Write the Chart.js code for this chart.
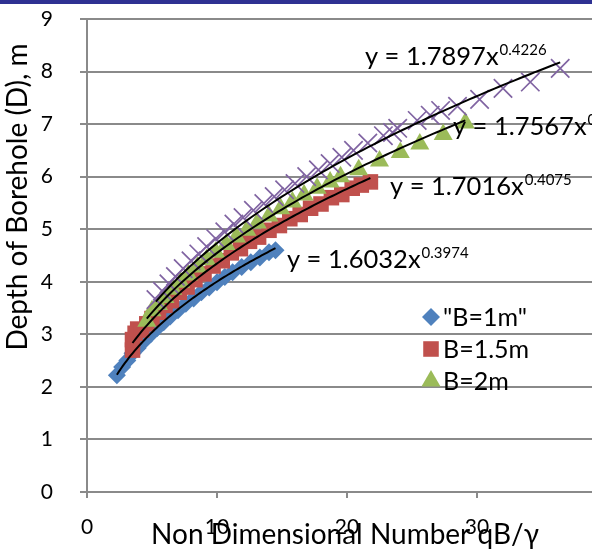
<!DOCTYPE html>
<html>
<head>
<meta charset="utf-8">
<script src="https://cdn.jsdelivr.net/npm/chart.js@4.4.0/dist/chart.umd.min.js"></script>
<style>
  html, body { margin: 0; padding: 0; background: #fff; width: 592px; height: 555px; overflow: hidden; }
  #wrap { position: absolute; left: 0; top: 0; width: 640px; height: 555px; }
  #band { position: absolute; left: 0; top: 0; width: 592px; height: 4px; background: #2e3192; }
</style>
</head>
<body>
<div id="wrap"><canvas id="c" width="640" height="555"></canvas></div>
<div id="band"></div>
<script>
// Borehole depth D against the non dimensional number qB/gamma, per footing width B
const seriesNames = ['"B=1m"', 'B=1.5m', 'B=2m', 'B=2.5m'];

const b1X = [2.3, 2.7, 3.1, 3.5, 3.9, 4.4, 4.9, 5.4, 5.9, 6.4, 7.0, 7.6, 8.2, 8.8, 9.4, 10.0, 10.6, 11.2, 11.9, 12.6, 13.3, 14.0, 14.5];
const b1Y = [2.22, 2.38, 2.50, 2.64, 2.74, 2.88, 3.00, 3.12, 3.23, 3.34, 3.46, 3.58, 3.68, 3.80, 3.89, 3.99, 4.09, 4.18, 4.28, 4.37, 4.46, 4.56, 4.60];

const b15X = [3.5, 3.5, 3.7, 3.9, 4.2, 4.6, 5.0, 5.5, 6.0, 6.5, 7.1, 7.7, 8.3, 9.0, 9.7, 10.4, 11.1, 11.8, 12.5, 13.2, 14.0, 14.8, 15.6, 16.4, 17.2, 18.0, 18.8, 19.6, 20.4, 21.1, 21.8];
const b15Y = [2.70, 2.90, 3.02, 3.10, 3.08, 3.20, 3.30, 3.42, 3.55, 3.64, 3.80, 3.90, 4.04, 4.15, 4.30, 4.40, 4.55, 4.63, 4.77, 4.85, 4.98, 5.07, 5.20, 5.28, 5.40, 5.48, 5.60, 5.66, 5.78, 5.84, 5.90];

const b2X = [4.6, 5.0, 5.5, 6.0, 6.6, 7.2, 7.8, 8.5, 9.2, 9.9, 10.7, 11.5, 12.3, 13.1, 14.0, 14.9, 15.8, 16.7, 17.7, 18.7, 19.5, 20.9, 22.5, 24.1, 25.6, 27.4, 29.1];
const b2Y = [3.25, 3.45, 3.57, 3.70, 3.86, 3.99, 4.13, 4.28, 4.42, 4.56, 4.71, 4.85, 4.98, 5.12, 5.25, 5.39, 5.52, 5.65, 5.78, 5.90, 6.00, 6.13, 6.30, 6.46, 6.62, 6.80, 7.02];

const b25X = [5.3, 5.8, 6.3, 6.8, 7.4, 8.0, 8.6, 9.2, 9.9, 10.6, 11.3, 12.0, 12.8, 13.6, 14.4, 15.2, 16.0, 16.9, 17.8, 18.7, 19.6, 20.5, 21.6, 22.8, 23.5, 23.9, 25.4, 26.4, 27.2, 28.5, 30.2, 32.0, 34.1, 36.4];
const b25Y = [3.66, 3.82, 3.96, 4.10, 4.25, 4.40, 4.53, 4.67, 4.82, 4.95, 5.10, 5.22, 5.36, 5.49, 5.62, 5.75, 5.87, 6.00, 6.13, 6.25, 6.37, 6.50, 6.64, 6.78, 6.84, 6.92, 7.07, 7.17, 7.26, 7.34, 7.47, 7.68, 7.80, 8.06];

// Power trendlines y = a * x^b, as printed beside each curve
const fitA = [1.6032, 1.7016, 1.7567, 1.7897];
const fitB = [0.3974, 0.4075, 0.4131, 0.4226];
const fitACoefText = ['1.6032', '1.7016', '1.7567', '1.7897'];
const fitBExpText = ['0.3974', '0.4075', '0.4131', '0.4226'];
// where each equation is written (left edge x, baseline y, in data units)
const eqAnchorX = [15.38, 23.31, 28.15, 21.38];
const eqAnchorY = [4.26, 5.65, 6.79, 8.12];

const xTickStep = 10;
const yTickStep = 1;
const xMin = 0, xMax = 40, yMin = 0, yMax = 9;

const colors = ['#4f81bd', '#c0504d', '#9bbb59', '#8064a2'];
const styles = ['rectRot', 'rect', 'triangle', 'crossRot'];
const radii = [9, 11, 11, 13];
const legendRadii = [9, 11, 11];

const xs = [b1X, b15X, b2X, b25X];
const ys = [b1Y, b15Y, b2Y, b25Y];

const FONT = 'Lato, "Open Sans", sans-serif';

const datasets = [];
xs.forEach((xArr, i) => {
  datasets.push({
    type: 'scatter',
    label: seriesNames[i],
    data: xArr.map((x, k) => ({ x: x, y: ys[i][k] })),
    pointStyle: styles[i],
    pointRadius: radii[i],
    pointHoverRadius: radii[i],
    backgroundColor: colors[i],
    borderColor: colors[i],
    borderWidth: i === 3 ? 1.7 : 0,
    showLine: false,
    order: 4 - i + 1
  });
});
// trendline curves from the printed coefficients
xs.forEach((xArr, i) => {
  const lo = Math.min(...xArr), hi = Math.max(...xArr);
  const pts = [];
  const n = 80;
  for (let k = 0; k <= n; k++) {
    const x = lo + (hi - lo) * k / n;
    pts.push({ x: x, y: fitA[i] * Math.pow(x, fitB[i]) });
  }
  datasets.push({
    type: 'line',
    label: 'fit' + i,
    data: pts,
    borderColor: '#000',
    borderWidth: 2,
    pointRadius: 0,
    fill: false,
    tension: 0,
    order: 0
  });
});

const equationLabels = {
  id: 'equationLabels',
  afterDatasetsDraw(chart) {
    const ctx = chart.ctx;
    const sx = chart.scales.x, sy = chart.scales.y;
    ctx.save();
    ctx.fillStyle = '#000';
    ctx.textBaseline = 'alphabetic';
    ctx.textAlign = 'left';
    for (let i = 0; i < fitA.length; i++) {
      const px = sx.getPixelForValue(eqAnchorX[i]);
      const py = sy.getPixelForValue(eqAnchorY[i]);
      const main = 'y = ' + fitACoefText[i] + 'x';
      ctx.font = '25.5px ' + FONT;
      ctx.fillText(main, px, py);
      const w = ctx.measureText(main).width;
      ctx.font = '15px ' + FONT;
      ctx.fillText(fitBExpText[i], px + w + 1, py - 10);
    }
    ctx.restore();
  }
};

const legendBox = {
  id: 'legendBox',
  afterDraw(chart) {
    const ctx = chart.ctx;
    ctx.save();
    const rows = [317, 349, 381];
    for (let i = 0; i < 3; i++) {
      ctx.fillStyle = colors[i];
      ctx.strokeStyle = colors[i];
      Chart.helpers.drawPoint(ctx, { pointStyle: styles[i], radius: legendRadii[i], borderWidth: 0 }, 431, rows[i]);
      ctx.fillStyle = '#000';
      ctx.font = '25px ' + FONT;
      ctx.textBaseline = 'middle';
      ctx.textAlign = 'left';
      ctx.fillText(seriesNames[i], 443, rows[i] + 1);
    }
    ctx.restore();
  }
};

const axisTitles = {
  id: 'axisTitles',
  afterDraw(chart) {
    const ctx = chart.ctx;
    ctx.save();
    ctx.fillStyle = '#000';
    ctx.font = '28px ' + FONT;
    ctx.textAlign = 'center';
    ctx.textBaseline = 'middle';
    ctx.fillText('Non Dimensional Number qB/\u03b3', 345, 535);
    ctx.translate(18, 197);
    ctx.rotate(-Math.PI / 2);
    ctx.fillText('Depth of Borehole (D), m', 0, 0);
    ctx.restore();
  }
};

new Chart(document.getElementById('c'), {
  data: { datasets: datasets },
  options: {
    responsive: false,
    animation: false,
    devicePixelRatio: 1,
    layout: { padding: { left: 0, top: 19, right: 33, bottom: 0 } },
    plugins: { legend: { display: false }, tooltip: { enabled: false }, title: { display: false } },
    scales: {
      x: {
        type: 'linear', min: xMin, max: xMax,
        ticks: { stepSize: xTickStep, color: '#000', font: { family: FONT, size: 21 }, padding: 17, maxRotation: 0 },
        grid: { drawOnChartArea: false, drawTicks: true, tickLength: 6, color: '#8a8a8a', lineWidth: 2 },
        border: { color: '#8a8a8a', width: 2 },
        afterFit(s) { s.height = 63; s.paddingLeft = 0; s.paddingRight = 0; }
      },
      y: {
        type: 'linear', min: yMin, max: yMax,
        ticks: { stepSize: yTickStep, color: '#000', font: { family: FONT, size: 21 }, padding: 27 },
        grid: { drawTicks: true, tickLength: 7, color: '#8a8a8a', lineWidth: 2 },
        border: { color: '#8a8a8a', width: 2 },
        afterFit(s) { s.width = 87; s.paddingTop = 0; s.paddingBottom = 0; }
      }
    }
  },
  plugins: [equationLabels, legendBox, axisTitles]
});
</script>
</body>
</html>
